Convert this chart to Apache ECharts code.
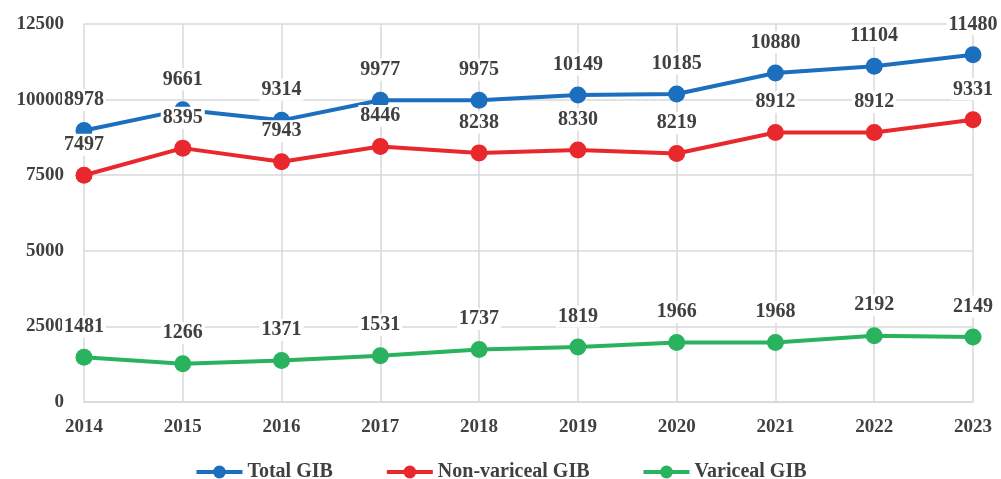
<!DOCTYPE html>
<html>
<head>
<meta charset="utf-8">
<script src="https://cdn.jsdelivr.net/npm/echarts@6/dist/echarts.min.js"></script>
<style>
  html, body { margin: 0; padding: 0; background: #fff; }
  #gibChart { width: 1001px; height: 479px; }
</style>
</head>
<body>
<div id="gibChart"></div>
<script>
  var years = ['2014', '2015', '2016', '2017', '2018', '2019', '2020', '2021', '2022', '2023']
  var totalGib = [8978, 9661, 9314, 9977, 9975, 10149, 10185, 10880, 11104, 11480]
  var nonVaricealGib = [7497, 8395, 7943, 8446, 8238, 8330, 8219, 8912, 8912, 9331]
  var varicealGib = [1481, 1266, 1371, 1531, 1737, 1819, 1966, 1968, 2192, 2149]

  var font = '"Liberation Serif", "Times New Roman", serif'

  function makeSeries (name, data, color) {
    return {
      name: name,
      type: 'line',
      data: data,
      symbol: 'circle',
      symbolSize: 17,
      color: color,
      lineStyle: { width: 4, color: color },
      itemStyle: { color: color },
      label: {
        show: true,
        position: 'top',
        distance: 11,
        fontFamily: font,
        fontWeight: 'bold',
        fontSize: 20,
        color: '#404040',
        backgroundColor: '#fff',
        padding: [1, 2]
      },
      emphasis: { disabled: true }
    }
  }

  var option = {
    animation: false,
    grid: { left: 84, right: 28, top: 24, bottom: 77 },
    legend: {
      top: 457,
      left: 'center',
      itemGap: 52,
      itemWidth: 46,
      itemHeight: 16,
      lineStyle: { width: 4 },
      textStyle: { fontFamily: font, fontWeight: 'bold', fontSize: 20, color: '#404040' },
      data: ['Total GIB', 'Non-variceal GIB', 'Variceal GIB']
    },
    xAxis: {
      type: 'category',
      data: years,
      boundaryGap: false,
      axisLine: { lineStyle: { color: '#d9d9d9', width: 1.5 } },
      axisTick: { show: false },
      splitLine: { show: true, lineStyle: { color: '#d9d9d9', width: 1.5 } },
      axisLabel: { margin: 16, fontFamily: font, fontWeight: 'bold', fontSize: 19, color: '#404040' }
    },
    yAxis: {
      type: 'value',
      min: 0,
      max: 12500,
      interval: 2500,
      axisLine: { show: false },
      axisTick: { show: false },
      splitLine: { lineStyle: { color: '#d9d9d9', width: 1.5 } },
      axisLabel: {
        margin: 20,
        fontFamily: font,
        fontWeight: 'bold',
        fontSize: 19,
        color: '#404040',
        formatter: function (v) { return String(v) }
      }
    },
    series: [
      makeSeries('Total GIB', totalGib, '#1C6FBE'),
      makeSeries('Non-variceal GIB', nonVaricealGib, '#E8282D'),
      makeSeries('Variceal GIB', varicealGib, '#2AB35E')
    ]
  }

  var myChart = echarts.init(document.getElementById('gibChart'))
  myChart.setOption(option)
</script>
</body>
</html>
